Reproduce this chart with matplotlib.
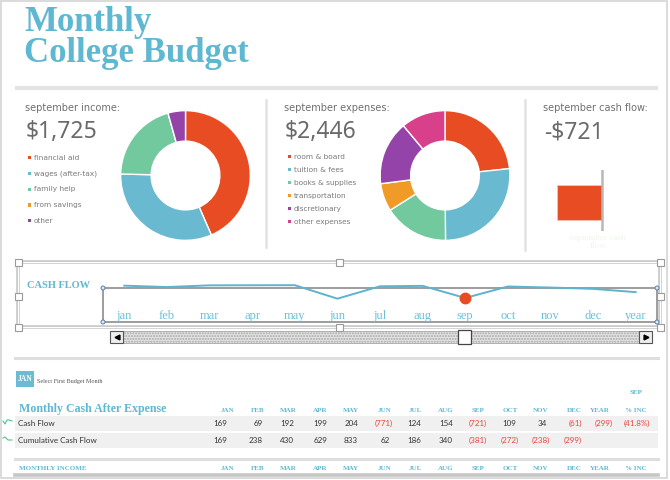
import numpy as np
import matplotlib
matplotlib.use('Agg')
from matplotlib import pyplot as plt
from matplotlib.patches import Rectangle, Circle

W, H = 670, 480

TEAL = '#5fb8d1'
RED = '#e84c22'
GRAY_TXT = '#6f6f6f'

# ---- data ----
income_labels = ['financial aid', 'wages (after-tax)', 'family help', 'from savings', 'other']
income_values = [750, 550, 350, 0, 75]
income_colors = ['#e84c22', '#69b9d1', '#72c99d', '#f09b27', '#9444a8']

expense_labels = ['room & board', 'tuition & fees', 'books & supplies',
                  'transportation', 'discretionary', 'other expenses']
expense_values = [570, 650, 395, 170, 390, 271]
expense_colors = ['#e84c22', '#69b9d1', '#72c99d', '#f09b27', '#9444a8', '#d9408c']

sep_cash_flow = -721

months = ['jan', 'feb', 'mar', 'apr', 'may', 'jun', 'jul', 'aug', 'sep',
          'oct', 'nov', 'dec', 'year']
cash_flow = [169, 69, 192, 199, 204, -771, 124, 154, -721, 109, 34, -61, -299]
cumulative = [169, 238, 430, 629, 833, 62, 186, 340, -381, -272, -238, -299]
pct_inc = '(41.8%)'
selected_month = 8

col_headers = ['JAN', 'FEB', 'MAR', 'APR', 'MAY', 'JUN', 'JUL', 'AUG', 'SEP',
               'OCT', 'NOV', 'DEC', 'YEAR', '% INC']
col_centers = [227, 258, 288, 320, 351, 384, 415, 446, 478, 510, 541, 574, 600, 636]
col_rights = [230, 266, 297, 330, 361, 393, 424, 456, 487, 519, 550, 582, 613, 650]


def px_axes(fig, x0, y0, x1, y1):
    return fig.add_axes([x0 / W, 1 - y1 / H, (x1 - x0) / W, (y1 - y0) / H])


def fmt(v):
    return '({:,})'.format(-v) if v < 0 else '{:,}'.format(v)


fig = plt.figure(figsize=(6.7, 4.8), dpi=100)
fig.patch.set_facecolor('white')

# background layer in pixel coords
bg = fig.add_axes([0, 0, 1, 1])
bg.set_xlim(0, W)
bg.set_ylim(H, 0)
bg.axis('off')

# outer border
bg.add_patch(Rectangle((1, 1), 666, 477, fill=False, ec='#d4d4d4', lw=1.2))

# title
bg.text(24, 31, 'Monthly', color=TEAL, fontsize=25, fontweight='bold',
        family='Liberation Serif', va='baseline', ha='left')
bg.text(24, 62, 'College Budget', color=TEAL, fontsize=25, fontweight='bold',
        family='Liberation Serif', va='baseline', ha='left')
bg.plot([15, 658], [87.5, 87.5], color='#e4e4e4', lw=3, solid_capstyle='butt')

# panel separators
bg.plot([266, 266], [100, 247], color='#e2e2e2', lw=1.8)
bg.plot([525, 525], [100, 250], color='#e2e2e2', lw=1.8)

# panel headings
for x, label, amount in [(25, 'september income:', '$1,725'),
                         (284, 'september expenses:', '$2,446'),
                         (543, 'september cash flow:', '-$721')]:
    bg.text(x, 108, label, color=GRAY_TXT, fontsize=7, family='DejaVu Sans',
            va='center', ha='left')
    bg.text(x + 1, 138, amount, color='#6a6a6a', fontsize=16.5, family='Noto Sans',
            va='baseline', ha='left')

# legends
for i, (lab, col) in enumerate(zip(income_labels, income_colors)):
    y = 157.7 + i * 15.75
    bg.add_patch(Rectangle((28, y - 1.6), 3.2, 3.2, color=col, lw=0))
    bg.text(34, y, lab, color='#7a7a7a', fontsize=5.3, family='DejaVu Sans',
            va='center', ha='left')
for i, (lab, col) in enumerate(zip(expense_labels, expense_colors)):
    y = 156.7 + i * 13.0
    bg.add_patch(Rectangle((288, y - 1.6), 3.2, 3.2, color=col, lw=0))
    bg.text(294, y, lab, color='#7a7a7a', fontsize=5.3, family='DejaVu Sans',
            va='center', ha='left')

# faint caption under the cash flow bar
bg.text(598, 242, 'september cash\nflow', color='#eef7ec', fontsize=6.5,
        family='Liberation Serif', va='center', ha='center', linespacing=1.1)

# selection frame around the sparkline
bg.add_patch(Rectangle((18, 262), 642, 65, fill=False, ec='#c8c8c8', lw=2.6))
bg.add_patch(Rectangle((18, 262), 642, 65, fill=False, ec='white', lw=0.8))
bg.text(27, 285, 'CASH FLOW', color=TEAL, fontsize=7.5, fontweight='bold',
        family='Liberation Serif', va='center', ha='left')

# scrollbar
bg.add_patch(Rectangle((110, 331), 542, 12, facecolor='#e4e4e4', edgecolor='#a8a8a8',
                       hatch='......', lw=0.6))
for bx, tri in [(110, '<'), (639, '>')]:
    bg.add_patch(Rectangle((bx, 331), 13, 12, facecolor='#eeeeee', edgecolor='#555555', lw=0.8))
    bg.plot(bx + 6.5, 337, marker=tri, color='black', ms=3.5)
bg.add_patch(Rectangle((458, 330), 13, 14, facecolor='white', edgecolor='#444444', lw=0.9))

# table section
bg.plot([15, 658], [358, 358], color='#dedede', lw=2.2)
bg.add_patch(Rectangle((16, 371), 18, 16, color='#6bbcd3', lw=0))
bg.text(25, 379, 'JAN', color='white', fontsize=5.5, fontweight='bold',
        family='Liberation Serif', va='center', ha='center')
bg.text(37, 382, 'Select First Budget Month', color='#555555', fontsize=4.4,
        family='Liberation Serif', va='center', ha='left')
bg.text(19, 409, 'Monthly Cash After Expense', color=TEAL, fontsize=8.6,
        fontweight='bold', family='Liberation Serif', va='center', ha='left')
bg.text(col_centers[-1], 393, col_headers[selected_month], color=TEAL, fontsize=5,
        fontweight='bold', family='Liberation Serif', va='center', ha='center')
for hy in (411, 468):
    for hx, h in zip(col_centers, col_headers):
        bg.text(hx, hy, h, color=TEAL, fontsize=5, fontweight='bold',
                family='Liberation Serif', va='center', ha='center')

rows = [('Cash Flow', cash_flow + [pct_inc], 423), ('Cumulative Cash Flow', cumulative, 440)]
for label, vals, ry in rows:
    bg.add_patch(Rectangle((15, ry - 7.5), 643, 15, color='#f0f0f0', lw=0))
    bg.text(18, ry + 0.5, label, color='#333333', fontsize=5.8, family='Lato',
            va='center', ha='left')
    for v, r in zip(vals, col_rights):
        if isinstance(v, str):
            txt, neg = v, True
        else:
            txt, neg = fmt(v), v < 0
        bg.text(r if neg else r - 3, ry + 0.5, txt, color='#e8453c' if neg else '#333333',
                fontsize=5.8, family='Lato', va='center', ha='right')

# little sparkline icons in the margin
bg.plot([3, 5, 7, 9, 12], [421, 424, 420, 420, 421], color='#55c08a', lw=0.8)
bg.plot([3, 5, 8, 12], [438, 437, 440, 440], color='#55c08a', lw=0.8)

bg.plot([15, 658], [458.5, 458.5], color='#dedede', lw=2.2)
bg.text(19, 468, 'MONTHLY INCOME', color=TEAL, fontsize=5, fontweight='bold',
        family='Liberation Serif', va='center', ha='left')
bg.plot([15, 658], [474.5, 474.5], color='#c6c6c6', lw=2.6)

# ---- donuts ----
for (cx, cy), vals, cols in [((185.5, 175.5), income_values, income_colors),
                             ((445, 175.5), expense_values, expense_colors)]:
    r = 65.5
    ax = px_axes(fig, cx - r, cy - r, cx + r, cy + r)
    ax.pie(vals, colors=cols, startangle=90, counterclock=False, radius=1,
           wedgeprops=dict(width=0.47, edgecolor='white', linewidth=1))
    ax.set_xlim(-1.01, 1.01)
    ax.set_ylim(-1.01, 1.01)
    ax.set_aspect('equal')
    ax.axis('off')

# ---- september cash flow bar ----
axb = px_axes(fig, 545, 170, 640, 231)
axb.barh([0], [sep_cash_flow], height=1.13, color=RED, edgecolor='#f6c3b5', lw=0.6)
axb.axvline(0, color='#b8b8b8', lw=1.8)
axb.set_xlim(-913, 608)
axb.set_ylim(-0.93, 1.07)
axb.axis('off')

# ---- cash flow sparkline ----
axs = px_axes(fig, 103, 262, 657, 322)
axs.patch.set_alpha(0)
x = np.arange(len(months))
axs.plot(x, cash_flow, color='#5fb3cc', lw=1.4, zorder=3)
axs.plot(x[selected_month], cash_flow[selected_month], 'o', color=RED, ms=7.5, zorder=4)
axs.axhline(0, color='#8c8c8c', lw=1.2, zorder=2)
axs.set_xlim(-0.5, len(months) - 0.5)
axs.set_ylim(-2458, 1880)
axs.spines['top'].set_visible(False)
for s in ('left', 'right'):
    axs.spines[s].set_bounds(-2458, 0)
    axs.spines[s].set_color('#8c8c8c')
    axs.spines[s].set_linewidth(1.2)
axs.spines['bottom'].set_color('#8c8c8c')
axs.spines['bottom'].set_linewidth(1.2)
axs.set_xticks([])
axs.set_yticks([])
for i, m in enumerate(months):
    axs.text(i, -2024, m, color='#6cc0d8', fontsize=9, family='Liberation Serif',
             ha='center', va='center')

# ---- top layer: selection handles ----
top = fig.add_axes([0, 0, 1, 1])
top.set_xlim(0, W)
top.set_ylim(H, 0)
top.axis('off')
for hx, hy in [(18, 262), (339, 262), (660, 262), (18, 296), (660, 296),
               (18, 327), (339, 327), (660, 327)]:
    top.add_patch(Rectangle((hx - 3.5, hy - 3.5), 7, 7, facecolor='white',
                            edgecolor='#9a9a9a', lw=0.8))
for hx, hy in [(103, 288), (103, 322), (657, 288), (657, 322)]:
    top.add_patch(Circle((hx, hy), 2, facecolor='#dfe8f2', edgecolor='#5a7fa8', lw=0.7))

fig.savefig('out.png', dpi=100)
